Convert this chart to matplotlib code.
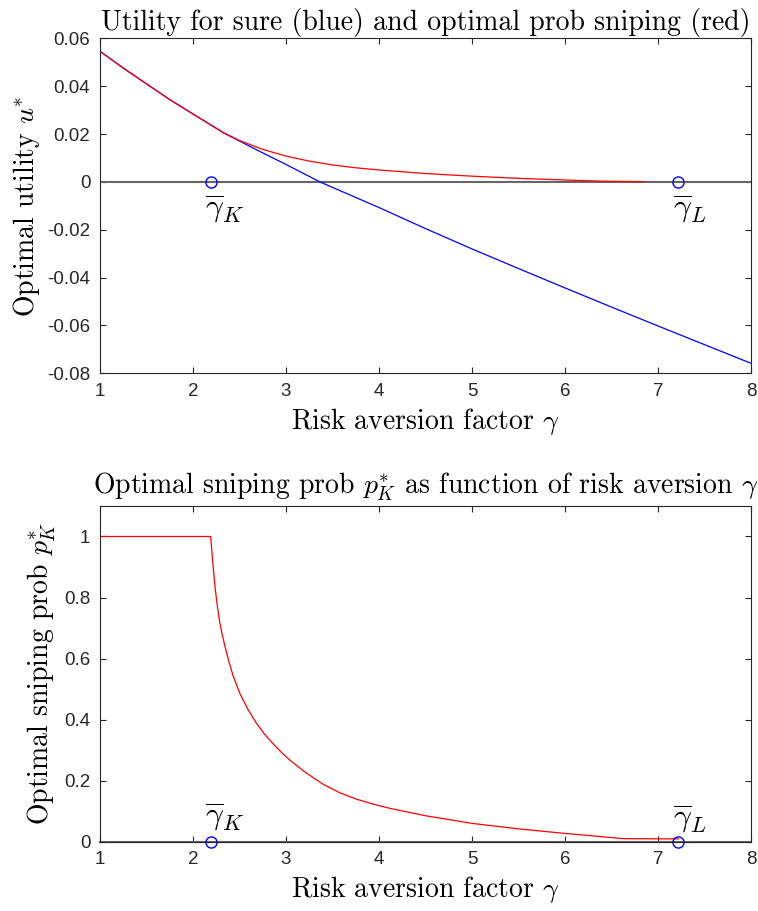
import matplotlib
matplotlib.use("Agg")
import matplotlib.pyplot as plt
import numpy as np

# top panel: utility curves
gam_blue = [1.0, 1.25, 1.5, 1.75, 2.0, 2.33, 2.7, 3.0, 3.365, 4.0, 4.5, 5.0, 5.5, 6.0, 6.5,
            7.0, 7.5, 8.0]
u_sure = [0.0546, 0.0476, 0.0410, 0.0344, 0.0284, 0.0205, 0.0131, 0.0073, 0.0, -0.0107,
          -0.0195, -0.0280, -0.0362, -0.0443, -0.0523, -0.0602, -0.0680, -0.0758]
gam_red = [1.0, 1.25, 1.5, 1.75, 2.0, 2.33, 2.5, 2.75, 3.0, 3.25, 3.5, 3.75, 4.0, 4.5, 5.0,
           5.5, 6.0, 6.4, 6.85]
u_snipe = [0.0546, 0.0476, 0.0410, 0.0344, 0.0284, 0.0205, 0.0173, 0.0136, 0.0108, 0.0087,
           0.0071, 0.0059, 0.0050, 0.0035, 0.0024, 0.0015, 0.0008, 0.0003, 0.0001]

# bottom panel: optimal sniping probability
gam_p = [1.0, 2.19, 2.213, 2.237, 2.26, 2.284, 2.31, 2.34, 2.38, 2.43, 2.505, 2.59, 2.685,
         2.77, 2.864, 2.95, 3.043, 3.2, 3.4, 3.58, 3.76, 3.95, 4.12, 4.5, 5.0, 5.5, 6.0, 6.3,
         6.62, 7.22]
p_star = [1.0, 1.0, 0.915, 0.835, 0.777, 0.725, 0.685, 0.645, 0.597, 0.545, 0.485, 0.434,
          0.387, 0.352, 0.320, 0.293, 0.267, 0.229, 0.188, 0.160, 0.139, 0.122, 0.109, 0.085,
          0.060, 0.042, 0.027, 0.019, 0.010, 0.009]

gamma_K = 2.19
gamma_L = 7.22

plt.rcParams['mathtext.fontset'] = 'cm'
plt.rcParams['axes.unicode_minus'] = False
plt.rcParams['font.family'] = 'Liberation Sans'

axc = (0.15, 0.15, 0.15)
cm = 'cmr10'

fig = plt.figure(figsize=(7.58, 9.11), dpi=100)
ax1 = fig.add_axes([0.1319, 0.5902, 0.8588, 0.3677])
ax2 = fig.add_axes([0.1319, 0.0761, 0.8588, 0.3685])

for ax in (ax1, ax2):
    ax.tick_params(direction='in', length=4, width=0.8, colors=axc, labelsize=13.5,
                   top=True, right=True, pad=7)
    for s in ax.spines.values():
        s.set_color(axc)
        s.set_linewidth(0.8)
    ax.set_xlim(1, 8)
    ax.set_xticks(range(1, 9))
    ax.set_xlabel(r'Risk aversion factor $\gamma$', fontfamily=cm, fontsize=20, labelpad=4)

# top
ax1.plot([1, 8], [0, 0], color='0.4', lw=1.5)
ax1.plot(gam_blue, u_sure, color='blue', lw=0.9)
ax1.plot(gam_red, u_snipe, color='red', lw=0.9)
ax1.plot([gamma_K, gamma_L], [0, 0], 'o', mfc='none', mec='blue', ms=8, mew=1.0)
ax1.text(2.13, -0.0115, r'$\overline{\gamma}_K$', fontsize=23, va='center', ha='left')
ax1.text(7.16, -0.0115, r'$\overline{\gamma}_L$', fontsize=23, va='center', ha='left')
ax1.set_ylim(-0.08, 0.06)
ax1.set_yticks(np.arange(-0.08, 0.061, 0.02))
ax1.set_yticklabels(['-0.08', '-0.06', '-0.04', '-0.02', '0', '0.02', '0.04', '0.06'])
ax1.set_ylabel(r'Optimal utility $u^{*}$', fontfamily=cm, fontsize=20, labelpad=4)
ax1.set_title('Utility for sure (blue) and optimal prob sniping (red)', fontfamily=cm,
              fontsize=20, pad=6)

# bottom
ax2.plot([1, 8], [0, 0], color='0.4', lw=1.5, clip_on=False)
ax2.plot(gam_p, p_star, color='red', lw=0.9)
ax2.plot([gamma_K, gamma_L], [0, 0], 'o', mfc='none', mec='blue', ms=8, mew=1.0, clip_on=False)
ax2.text(2.13, 0.078, r'$\overline{\gamma}_K$', fontsize=23, va='center', ha='left')
ax2.text(7.16, 0.072, r'$\overline{\gamma}_L$', fontsize=23, va='center', ha='left')
ax2.set_ylim(0, 1.1)
ax2.set_yticks([0, 0.2, 0.4, 0.6, 0.8, 1])
ax2.set_yticklabels(['0', '0.2', '0.4', '0.6', '0.8', '1'])
ax2.set_ylabel(r'Optimal sniping prob $p_K^{*}$', fontfamily=cm, fontsize=20, labelpad=4)
ax2.set_title(r'Optimal sniping prob $p_K^{*}$ as function of risk aversion $\gamma$',
              fontfamily=cm, fontsize=20, pad=9)

fig.savefig('out.png', dpi=100)
